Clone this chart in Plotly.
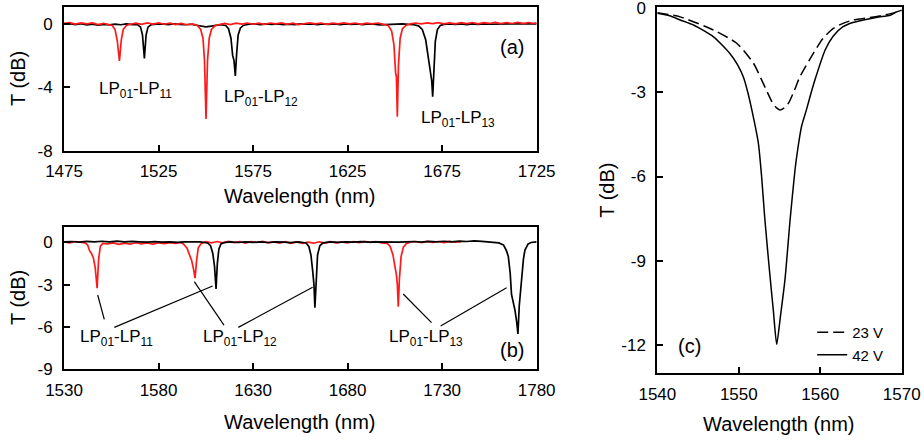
import plotly.graph_objects as go

# ---------------- Panel (a) ----------------
a_black_wl = [1475, 1478, 1481, 1484, 1487, 1490, 1493, 1496, 1499, 1502, 1505, 1508, 1511, 1514,
              1515.5, 1516.5, 1517.5, 1518.4, 1519.4, 1521, 1524, 1527, 1530, 1533, 1536, 1539, 1542,
              1545, 1548, 1550, 1552, 1555, 1558, 1560.5, 1562, 1563.3, 1564.2, 1564.9, 1565.6, 1566.3,
              1567.1, 1568.3, 1570, 1573, 1576, 1579, 1582, 1585, 1588, 1591, 1594, 1597, 1600, 1603,
              1606, 1609, 1612, 1615, 1618, 1621, 1624, 1627, 1630, 1633, 1636, 1639, 1642, 1645, 1648,
              1651, 1654, 1657, 1660, 1662.5, 1664.5, 1666.3, 1667.7, 1668.8, 1669.5, 1670, 1670.6,
              1671.4, 1672.5, 1674, 1676, 1679, 1682, 1685, 1688, 1691, 1694, 1697, 1700, 1705, 1710,
              1715, 1720, 1725]
a_black_T = [-0.02, 0.02, -0.05, 0.01, -0.06, -0.02, -0.07, -0.03, -0.06, -0.01, -0.05, 0.0, -0.04, -0.05,
             -0.2, -0.7, -2.17, -0.7, -0.2, -0.05, -0.02, 0.01, -0.04, 0.01, -0.03, -0.05, -0.02,
             -0.08, -0.14, -0.18, -0.15, -0.1, -0.05, -0.1, -0.3, -0.9, -2.0, -2.3, -3.28, -1.9,
             -0.7, -0.25, -0.08, -0.02, 0.01, -0.04, 0.01, -0.03, 0.0, -0.05, -0.01, -0.04, 0.01, -0.02,
             0.01, -0.04, 0.0, -0.03, 0.01, -0.04, 0.0, -0.03, 0.01, -0.04, 0.0, -0.02, -0.06, -0.04, -0.02,
             -0.04, 0.0, -0.03, -0.05, -0.12, -0.35, -1.0, -2.2, -3.0, -3.6, -4.59, -2.9,
             -1.1, -0.35, -0.1, -0.03, 0.01, -0.03, 0.0, -0.04, 0.01, -0.03, 0.0, -0.02, 0.0, 0.01,
             0.0, 0.02, 0.01]

a_red_wl = [1475, 1478, 1481, 1484, 1487, 1490, 1493, 1496, 1498.5, 1500.5, 1502, 1503.2, 1504.3,
            1505.3, 1506.3, 1508, 1510, 1513, 1516, 1519, 1522, 1525, 1528, 1531, 1534, 1537, 1540,
            1543, 1545.5, 1547.3, 1548.5, 1549.3, 1550.1, 1550.9, 1551.8, 1553, 1555, 1557, 1560, 1563,
            1566, 1569, 1572, 1575, 1578, 1581, 1584, 1587, 1590, 1593, 1596, 1599, 1602, 1605, 1608,
            1611, 1614, 1617, 1620, 1623, 1626, 1629, 1632, 1635, 1638, 1641, 1644, 1646.5, 1648.3,
            1649.5, 1650.4, 1650.8, 1651.3, 1651.9, 1652.8, 1654, 1656, 1658, 1661, 1664, 1667, 1670,
            1673, 1676, 1679, 1682, 1685, 1688, 1691, 1694, 1697, 1700, 1703, 1706, 1709, 1712, 1715,
            1718, 1721, 1723, 1725]
a_red_T = [0.03, 0.08, -0.01, 0.07, 0.0, 0.06, -0.04, 0.04, -0.04, -0.1, -0.35, -1.1, -2.34,
           -1.0, -0.35, -0.1, -0.02, 0.05, -0.03, 0.06, -0.01, 0.07, -0.02, 0.05, -0.04, 0.04, -0.05,
           0.0, -0.1, -0.35, -0.9, -2.3, -6.0, -2.3, -0.9, -0.35, -0.1, -0.05, 0.03, -0.04,
           0.05, -0.01, 0.06, -0.02, 0.05, -0.03, 0.06, 0.0, 0.07, -0.02, 0.05, -0.04, 0.03, 0.07, 0.0,
           0.06, -0.03, 0.05, 0.0, 0.07, 0.01, 0.06, -0.03, 0.05, 0.0, 0.06, -0.03, -0.1, -0.45,
           -1.3, -3.1, -3.3, -5.85, -2.6, -0.9, -0.3, -0.08, 0.0, 0.06, 0.0, 0.07, 0.02,
           0.08, 0.01, 0.07, 0.0, 0.08, 0.02, 0.09, 0.01, 0.08, 0.03, 0.1, 0.02, 0.09, 0.03, 0.1,
           0.02, 0.09, 0.02, 0.07]

# ---------------- Panel (b) ----------------
b_black_wl = [1530, 1534, 1538, 1542, 1546, 1550, 1554, 1558, 1562, 1566, 1570, 1574, 1578, 1582,
              1586, 1590, 1594, 1598, 1602, 1606, 1607.5, 1608.7, 1609.6, 1610.4, 1611.1, 1611.9, 1613,
              1614.5, 1618, 1622, 1626, 1630, 1634, 1638, 1642, 1646, 1650, 1654, 1658, 1659.5, 1660.6,
              1661.5, 1662.2, 1662.7, 1663.3, 1664.1, 1665.3, 1667, 1671, 1675, 1679, 1683, 1687, 1691,
              1695, 1699, 1703, 1707, 1711, 1715, 1719, 1723, 1727, 1731, 1735, 1739, 1743, 1747, 1751,
              1755, 1760, 1762.5, 1764, 1765, 1766, 1766.7, 1767.7, 1768.5, 1769.4, 1770.1, 1770.8,
              1772, 1773, 1773.8, 1775.5, 1777, 1780]
b_black_T = [0.02, 0.05, 0.01, 0.06, 0.02, 0.07, 0.03, 0.08, 0.02, 0.06, 0.03, 0.0, 0.04, 0.0,
             0.03, -0.01, 0.02, 0.0, 0.03, -0.05, -0.25, -0.8, -1.7, -3.31, -1.5, -0.5, -0.12,
             -0.03, 0.02, -0.02, 0.03, -0.01, 0.02, -0.02, 0.03, 0.0, -0.03, 0.02, -0.05, -0.3, -0.9,
             -2.0, -3.0, -4.64, -2.6, -0.9, -0.25, -0.05, 0.02, -0.01, 0.03, 0.0, 0.04, 0.0,
             0.03, 0.01, 0.04, 0.0, 0.03, 0.05, 0.01, 0.06, 0.02, 0.07, 0.03, 0.08, 0.05, 0.1, 0.06,
             0.03, -0.05, -0.2, -0.6, -1.0, -2.2, -3.7, -4.3, -4.8, -5.6, -6.5, -4.5,
             -2.4, -1.2, -0.55, -0.12, -0.02, 0.02]

b_red_wl = [1530, 1533, 1536, 1539, 1541, 1542.5, 1543.5, 1544.5, 1545.5, 1546.5, 1547.5, 1548.3,
            1549.2, 1550.5, 1553, 1556, 1559, 1562, 1565, 1568, 1571, 1574, 1577, 1580, 1583, 1586,
            1589, 1591.5, 1593, 1595, 1596.5, 1597.5, 1598.5, 1599.3, 1600.2, 1601, 1602.5, 1605, 1608,
            1611, 1614, 1617, 1620, 1623, 1626, 1629, 1632, 1635, 1638, 1641, 1644, 1647, 1650, 1653,
            1656, 1659, 1662, 1665, 1668, 1671, 1674, 1677, 1680, 1683, 1686, 1689, 1692, 1695, 1698,
            1701, 1702.5, 1704, 1705, 1705.8, 1706.3, 1706.8, 1707.4, 1708.3, 1709.5, 1711, 1713, 1716,
            1719, 1722, 1725, 1728, 1731, 1734, 1737, 1740]
b_red_T = [0.03, -0.04, 0.05, -0.03, -0.05, -0.2, -0.6, -0.8, -1.1, -1.8, -3.26, -1.2,
           -0.3, -0.08, -0.12, -0.05, -0.15, -0.06, -0.14, -0.04, -0.12, -0.05, -0.13, -0.04, -0.1, -0.03,
           -0.09, -0.02, -0.1, -0.4, -0.9, -1.3, -1.9, -2.55, -1.2, -0.4, -0.1, 0.04, -0.05,
           0.05, -0.04, 0.06, -0.03, 0.04, -0.06, 0.05, -0.02, 0.06, -0.05, 0.03, -0.06, 0.04, -0.08, 0.02,
           -0.09, 0.0, -0.07, 0.03, -0.06, 0.04, -0.05, 0.03, -0.04, 0.05, -0.03, 0.06, -0.02, 0.05, -0.04,
           -0.08, -0.3, -0.9, -1.7, -2.3, -3.0, -4.57, -2.6, -1.0, -0.35, -0.1, 0.0, 0.05,
           -0.03, 0.06, -0.02, 0.05, -0.03, 0.06, 0.0, 0.04]

# annotation leader lines in panel (b): (wl0, T0, wl1, T1)
b_leader_lines = [
    (1547.8, -3.74, 1551.3, -5.46),
    (1556.6, -6.03, 1608.6, -3.10),
    (1598.9, -2.79, 1614.6, -5.87),
    (1622.2, -6.03, 1661.5, -3.19),
    (1709.4, -3.67, 1724.4, -5.70),
    (1729.2, -5.94, 1764.1, -3.22),
]

# ---------------- Panel (c) ----------------
c_42V_wl = [1540, 1541.5, 1542.8, 1544.5, 1546.9, 1548.9, 1549.8, 1550.55, 1551.1, 1551.6, 1552.4,
            1552.8, 1553.2, 1553.75, 1554.25, 1554.65, 1555.1, 1555.67, 1556.3, 1556.9, 1557.3, 1557.7,
            1558.3, 1558.8, 1559.35, 1560.6, 1561.6, 1562.8, 1564, 1565.3, 1567, 1568.6, 1569.3, 1570]
c_42V_T = [-0.19, -0.28, -0.43, -0.62, -1.03, -1.62, -2.0, -2.45, -3.0, -3.63, -4.81,
           -6.0, -7.53, -9.3, -10.8, -11.97, -11.0, -9.66, -7.53, -5.76, -4.9, -4.22,
           -3.63, -3.1, -2.56, -1.5, -1.0, -0.67, -0.52, -0.43, -0.33, -0.26, -0.15, -0.08]

c_23V_wl = [1540, 1542.8, 1546.9, 1549.75, 1551.8, 1552.8, 1553.5, 1554.05, 1554.6, 1555.06, 1555.6,
            1556.1, 1556.8, 1557.5, 1559.15, 1560.3, 1561.6, 1562.8, 1564.05, 1566, 1568, 1570]
c_23V_T = [-0.17, -0.32, -0.79, -1.26, -1.97, -2.56, -3.0, -3.33, -3.55, -3.63, -3.55,
           -3.39, -2.95, -2.45, -1.62, -1.1, -0.73, -0.55, -0.43, -0.35, -0.25, -0.1]

a_xticks = [1475, 1525, 1575, 1625, 1675, 1725]
a_yticks = [0, -4, -8]
b_xticks = [1530, 1580, 1630, 1680, 1730, 1780]
b_yticks = [0, -3, -6, -9]
c_xticks = [1540, 1550, 1560, 1570]
c_yticks = [0, -3, -6, -9, -12]


def tick_text(vals):
    return [str(v) for v in vals]


FONT = "Arial, Liberation Sans, sans-serif"
RED = "#ff1a1a"
BLACK = "#000000"

fig = go.Figure()

fig.add_trace(go.Scatter(x=a_black_wl, y=a_black_T, mode="lines", line=dict(color=BLACK, width=1.7),
                         xaxis="x", yaxis="y", showlegend=False))
fig.add_trace(go.Scatter(x=a_red_wl, y=a_red_T, mode="lines", line=dict(color=RED, width=1.7),
                         xaxis="x", yaxis="y", showlegend=False))
fig.add_trace(go.Scatter(x=b_red_wl, y=b_red_T, mode="lines", line=dict(color=RED, width=1.7),
                         xaxis="x2", yaxis="y2", showlegend=False))
fig.add_trace(go.Scatter(x=b_black_wl, y=b_black_T, mode="lines", line=dict(color=BLACK, width=1.7),
                         xaxis="x2", yaxis="y2", showlegend=False))
fig.add_trace(go.Scatter(x=c_23V_wl, y=c_23V_T, mode="lines", name="23 V",
                         line=dict(color=BLACK, width=1.5, dash="11px,5px", shape="spline", smoothing=0.6),
                         xaxis="x3", yaxis="y3"))
fig.add_trace(go.Scatter(x=c_42V_wl, y=c_42V_T, mode="lines", name="42 V",
                         line=dict(color=BLACK, width=1.5, shape="spline", smoothing=0.6),
                         xaxis="x3", yaxis="y3"))

for (x0, y0, x1, y1) in b_leader_lines:
    fig.add_shape(type="line", xref="x2", yref="y2", x0=x0, y0=y0, x1=x1, y1=y1,
                  line=dict(color=BLACK, width=1.2))

axis_common = dict(showline=True, linecolor=BLACK, linewidth=2, mirror=True, ticks="inside",
                   ticklen=6, tickwidth=2, tickcolor=BLACK, showgrid=False, zeroline=False,
                   automargin=False, ticklabeloverflow="allow",
                   tickfont=dict(family=FONT, size=17, color=BLACK))

fig.update_layout(
    width=924, height=440,
    margin=dict(l=0, r=0, t=0, b=0, pad=0, autoexpand=False),
    paper_bgcolor="white", plot_bgcolor="white",
    font=dict(family=FONT, color=BLACK),
    xaxis=dict(domain=[0.0693, 0.5808], range=[1475, 1725], tickvals=a_xticks,
               ticktext=tick_text(a_xticks), anchor="y", ticklabelstandoff=4, **axis_common),
    yaxis=dict(domain=[0.6575, 0.9834], range=[-8, 1.05], tickvals=a_yticks,
               ticktext=tick_text(a_yticks), anchor="x", ticklabelstandoff=6, **axis_common),
    xaxis2=dict(domain=[0.0693, 0.5808], range=[1530, 1780], tickvals=b_xticks,
                ticktext=tick_text(b_xticks), anchor="y2", ticklabelstandoff=4, **axis_common),
    yaxis2=dict(domain=[0.1607, 0.4848], range=[-9, 1.1], tickvals=b_yticks,
                ticktext=tick_text(b_yticks), anchor="x2", ticklabelstandoff=6, **axis_common),
    xaxis3=dict(domain=[0.7114, 0.9759], range=[1540, 1570], tickvals=c_xticks,
                ticktext=tick_text(c_xticks), anchor="y3", ticklabelstandoff=4, **axis_common),
    yaxis3=dict(domain=[0.1516, 0.9834], range=[-13, 0.02], tickvals=c_yticks,
                ticktext=tick_text(c_yticks), anchor="x3", ticklabelstandoff=6, **axis_common),
    legend=dict(x=0.879, y=0.282, xanchor="left", yanchor="top", bgcolor="rgba(0,0,0,0)",
                font=dict(family=FONT, size=15, color=BLACK), tracegroupgap=0, itemwidth=30),
)

ann = []
title_font = dict(family=FONT, size=20, color=BLACK)
label_font = dict(family=FONT, size=17, color=BLACK)
# axis titles (paper coordinates)
ann += [
    dict(text="T (dB)", x=0.0195, y=0.8205, textangle=-90, font=title_font),
    dict(text="Wavelength (nm)", x=0.3247, y=0.5545, font=title_font),
    dict(text="T (dB)", x=0.0195, y=0.3227, textangle=-90, font=title_font),
    dict(text="Wavelength (nm)", x=0.3247, y=0.0409, font=title_font),
    dict(text="T (dB)", x=0.6566, y=0.568, textangle=-90, font=title_font),
    dict(text="Wavelength (nm)", x=0.843, y=0.036, font=title_font),
]
for a in ann:
    a.update(xref="paper", yref="paper", showarrow=False, xanchor="center", yanchor="middle")

lab = [
    dict(text="LP<sub>01</sub>-LP<sub>11</sub>", x=1512.8, y=-4.17, xref="x", yref="y", font=label_font),
    dict(text="LP<sub>01</sub>-LP<sub>12</sub>", x=1579.2, y=-4.67, xref="x", yref="y", font=label_font),
    dict(text="LP<sub>01</sub>-LP<sub>13</sub>", x=1683.4, y=-6.0, xref="x", yref="y", font=label_font),
    dict(text="(a)", x=1711.7, y=-1.43, xref="x", yref="y", font=title_font),
    dict(text="LP<sub>01</sub>-LP<sub>11</sub>", x=1557.5, y=-6.8, xref="x2", yref="y2", font=label_font),
    dict(text="LP<sub>01</sub>-LP<sub>12</sub>", x=1623.1, y=-6.8, xref="x2", yref="y2", font=label_font),
    dict(text="LP<sub>01</sub>-LP<sub>13</sub>", x=1721.4, y=-6.8, xref="x2", yref="y2", font=label_font),
    dict(text="(b)", x=1767.2, y=-7.64, xref="x2", yref="y2", font=title_font),
    dict(text="(c)", x=1544.0, y=-12.03, xref="x3", yref="y3", font=title_font),
]
for a in lab:
    a.update(showarrow=False, xanchor="center", yanchor="middle")

fig.update_layout(annotations=ann + lab)

fig.write_html("out.html")
